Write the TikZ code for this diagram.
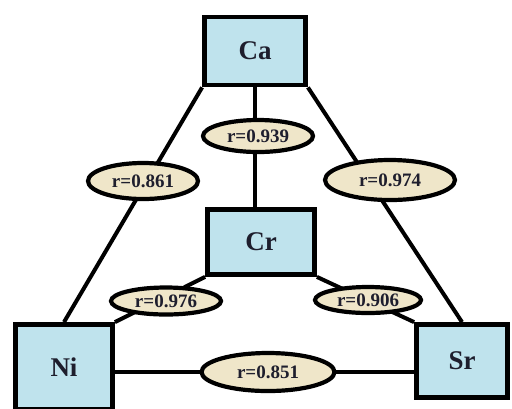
\documentclass[tikz,border=0pt]{standalone}
\usepackage{fontspec}
\setmainfont{Liberation Serif}
\usepackage{tikz}
\usetikzlibrary{shapes.geometric,backgrounds}
\definecolor{elblue}{HTML}{BFE3ED}
\definecolor{corrbeige}{HTML}{EFE6C9}
\definecolor{txtdark}{HTML}{1E1E2D}

\begin{document}
\begin{tikzpicture}[x=0.5pt,y=-0.5pt,
  elem/.style={rectangle, draw=black, line width=2.4pt, fill=elblue, text=txtdark, font=\fontsize{13.5}{15}\selectfont\bfseries, inner sep=0pt},
  corr/.style={ellipse, draw=black, line width=2.1pt, fill=corrbeige, text=txtdark, font=\fontsize{9.5}{10}\selectfont\bfseries, inner sep=0pt},
  link/.style={line width=2pt, draw=black}]
\useasboundingbox (0,0) rectangle (512,408);
\node[elem, minimum width=50.5pt, minimum height=34pt] (Ca) at (255,51) {Ca};
\node[elem, minimum width=53.5pt, minimum height=32.5pt] (Cr) at (261,242) {Cr};
\node[elem, minimum width=48.5pt, minimum height=42.5pt] (Ni) at (64,367) {Ni};
\node[elem, minimum width=45.5pt, minimum height=36.5pt] (Sr) at (462,361) {Sr};
\node[corr, minimum width=55pt, minimum height=16pt] (e939) at (258,136) {r=0.939};
\node[corr, minimum width=55pt, minimum height=18pt] (e861) at (143,181) {r=0.861};
\node[corr, minimum width=65pt, minimum height=20pt] (e974) at (390,180) {r=0.974};
\node[corr, minimum width=55pt, minimum height=13.5pt] (e976) at (166,301) {r=0.976};
\node[corr, minimum width=53pt, minimum height=13pt] (e906) at (368,300) {r=0.906};
\node[corr, minimum width=66.5pt, minimum height=19pt] (e851) at (268,372) {r=0.851};
\begin{scope}[on background layer]
\draw[link] (Ca.south west) -- (Ni.north);
\draw[link] (Ca.south east) -- (Sr.north);
\draw[link] (Ca.south) -- (Ca.south |- Cr.north);
\draw[link] (Ni.north east) -- (Cr.south west);
\draw[link] (Cr.south east) -- (Sr.north west);
\draw[link] (Ni.east |- e851) -- (Sr.west |- e851);
\end{scope}
\end{tikzpicture}
\end{document}
